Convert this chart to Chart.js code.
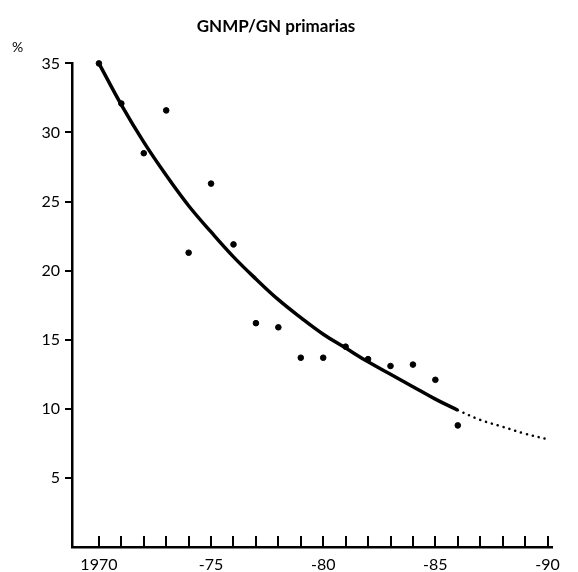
<!DOCTYPE html>
<html>
<head>
<meta charset="utf-8">
<script src="https://cdn.jsdelivr.net/npm/chart.js@4.4.1/dist/chart.umd.min.js"></script>
<style>
  html, body { margin: 0; padding: 0; background: #fff; }
  #wrap { width: 578px; height: 572px; position: relative; }
</style>
</head>
<body>
<div id="wrap"><canvas id="chart"></canvas></div>
<script>
// Observed values (dots)
const years = [1970, 1971, 1972, 1973, 1974, 1975, 1976, 1977, 1978, 1979, 1980, 1981, 1982, 1983, 1984, 1985, 1986];
const observed = [35.0, 32.1, 28.5, 31.6, 21.3, 26.3, 21.9, 16.2, 15.9, 13.7, 13.7, 14.5, 13.6, 13.1, 13.2, 12.1, 8.8];

// Fitted trend (solid) and its projection (dotted)
const trend = [35.0, 32.0, 29.3, 26.9, 24.7, 22.8, 21.0, 19.4, 17.9, 16.6, 15.4, 14.4, 13.4, 12.5, 11.6, 10.7, 9.9];
const projYears = [1986, 1987, 1988, 1989, 1990];
const projection = [9.9, 9.2, 8.7, 8.2, 7.8];

// Axis ticks
const yTicks = [5, 10, 15, 20, 25, 30, 35];
const xLabels = { 1970: "1970", 1975: "-75", 1980: "-80", 1985: "-85", 1990: "-90" };

const toPts = (xs, ys) => xs.map((x, i) => ({ x: x, y: ys[i] }));

// Upward ticks on the x axis + the "%" unit label
const axisExtras = {
  id: "axisExtras",
  afterDraw(chart) {
    const { ctx, chartArea, scales } = chart;
    ctx.save();
    ctx.strokeStyle = "#000";
    ctx.lineWidth = 2;
    for (let yr = 1970; yr <= 1990; yr++) {
      const px = Math.round(scales.x.getPixelForValue(yr));
      ctx.beginPath();
      ctx.moveTo(px, chartArea.bottom);
      ctx.lineTo(px, chartArea.bottom - 11);
      ctx.stroke();
    }
    ctx.fillStyle = "#000";
    ctx.font = "14px Lato";
    ctx.textAlign = "left";
    ctx.textBaseline = "middle";
    ctx.fillText("%", 12, 47);
    ctx.restore();
  }
};

const chart = new Chart(document.getElementById("chart"), {
  type: "scatter",
  data: {
    datasets: [
      {
        type: "line",
        data: toPts(years, trend),
        borderColor: "#000",
        borderWidth: 3.5,
        pointRadius: 0,
        tension: 0.4,
        clip: false,
        fill: false
      },
      {
        type: "line",
        data: toPts(projYears, projection),
        borderColor: "#000",
        borderWidth: 2.5,
        borderDash: [0.1, 6],
        borderCapStyle: "round",
        pointRadius: 0,
        tension: 0.4,
        clip: false,
        fill: false
      },
      {
        data: toPts(years, observed),
        backgroundColor: "#000",
        borderColor: "#000",
        pointRadius: 2.8,
        pointHoverRadius: 2.8,
        clip: false
      }
    ]
  },
  options: {
    responsive: true,
    maintainAspectRatio: false,
    animation: false,
    layout: { padding: { left: 0, right: 26, top: 0, bottom: 0 } },
    plugins: {
      legend: { display: false },
      tooltip: { enabled: false },
      title: {
        display: true,
        text: "GNMP/GN primarias",
        color: "#000",
        font: { family: "Lato", size: 17, weight: "bold" },
        padding: { top: 16, bottom: 27 }
      }
    },
    scales: {
      x: {
        type: "linear",
        min: 1968.8,
        max: 1990.2,
        afterBuildTicks: (s) => { s.ticks = Object.keys(xLabels).map((v) => ({ value: +v })); },
        afterFit: (s) => { s.height = 25; },
        border: { display: true, color: "#000", width: 2.5 },
        grid: { display: false, drawTicks: false },
        ticks: {
          color: "#000",
          padding: 8,
          maxRotation: 0,
          font: { family: "Lato", size: 16 },
          callback: (v) => xLabels[v] || ""
        }
      },
      y: {
        min: 0,
        max: 35,
        afterBuildTicks: (s) => { s.ticks = yTicks.map((v) => ({ value: v })); },
        afterFit: (s) => { s.width = 72; },
        border: { display: true, color: "#000", width: 2.5 },
        grid: { drawOnChartArea: false, drawTicks: true, tickLength: 7, color: "#000", lineWidth: 2 },
        ticks: {
          color: "#000",
          padding: 5,
          font: { family: "Lato", size: 16 }
        }
      }
    }
  },
  plugins: [axisExtras]
});
</script>
</body>
</html>
